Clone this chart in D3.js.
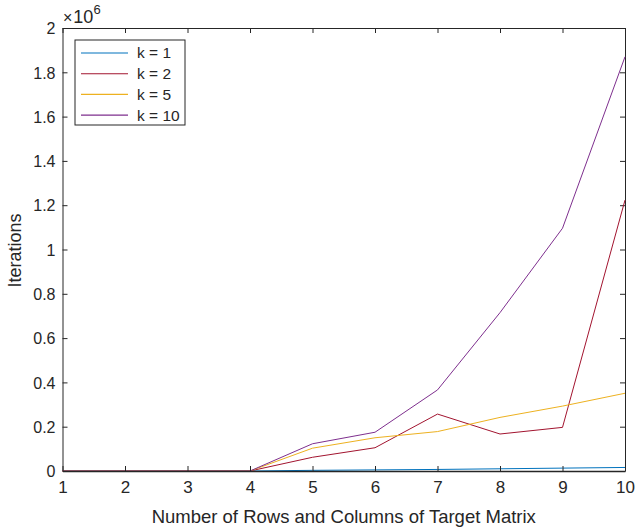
<!DOCTYPE html>
<html>
<head>
<meta charset="utf-8">
<script src="https://cdn.jsdelivr.net/npm/d3@7"></script>
<style>
  body { margin: 0; background: #fff; }
  svg { font-family: "Liberation Sans", Arial, sans-serif; }
  .axis text { font-size: 16px; fill: #262626; }
  .axis line, .axis path { stroke: #262626; }
</style>
</head>
<body>
<svg width="640" height="531"></svg>
<script>
const sizes = [1, 2, 3, 4, 5, 6, 7, 8, 9, 10];
const k1 = [0, 0, 0, 0, 3000, 5000, 7000, 10000, 13000, 16000];
const k2 = [0, 0, 0, 0, 62000, 105000, 257000, 167000, 197000, 1223000];
const k5 = [0, 0, 0, 0, 103000, 150000, 178000, 242000, 293000, 351000];
const k10 = [0, 0, 0, 0, 123000, 175000, 366000, 715000, 1096000, 1870000];
const seriesNames = ["k = 1", "k = 2", "k = 5", "k = 10"];
const seriesColors = ["#0072BD", "#A2142F", "#EDB120", "#7E2F8E"];
const yTicks = [0, 200000, 400000, 600000, 800000, 1000000, 1200000, 1400000, 1600000, 1800000, 2000000];

const series = [k1, k2, k5, k10];

const plotLeft = 62.5, plotRight = 625, plotTop = 28, plotBottom = 471;

const svg = d3.select("svg");

const x = d3.scaleLinear().domain([1, 10]).range([plotLeft, plotRight]);
const y = d3.scaleLinear().domain([0, 2000000]).range([plotBottom, plotTop]);

const fmt = d => String(+(d / 1e6).toFixed(1));

// top axis (faint line, ticks pointing down)
const topAxis = svg.append("g")
  .attr("class", "axis")
  .attr("transform", `translate(0,${plotTop})`)
  .call(d3.axisTop(x).tickValues(sizes).tickSizeInner(-5).tickSizeOuter(0).tickFormat(""));
topAxis.select(".domain").attr("stroke", "#ebebeb");

svg.append("g")
  .attr("class", "axis")
  .attr("transform", `translate(${plotRight},0)`)
  .call(d3.axisRight(y).tickValues(yTicks).tickSizeInner(-5).tickSizeOuter(0).tickFormat(""));

const yAxis = svg.append("g")
  .attr("class", "axis")
  .attr("transform", `translate(${plotLeft},0)`)
  .call(d3.axisLeft(y).tickValues(yTicks).tickSizeInner(-5).tickSizeOuter(0).tickPadding(7).tickFormat(fmt));
yAxis.selectAll("text").attr("dy", "0.36em");

// lines
const line = d3.line()
  .x((d, i) => x(sizes[i]))
  .y(d => y(d));

series.forEach((s, i) => {
  svg.append("path")
    .datum(s)
    .attr("fill", "none")
    .attr("stroke", seriesColors[i])
    .attr("stroke-width", 1)
    .attr("d", line);
});

// bottom axis drawn over the lines
const xAxis = svg.append("g")
  .attr("class", "axis")
  .attr("transform", `translate(0,${plotBottom})`)
  .call(d3.axisBottom(x).tickValues(sizes).tickSizeInner(-5).tickSizeOuter(0).tickPadding(10).tickFormat(d3.format("d")));
xAxis.selectAll("text").style("font-size", "17px");
xAxis.select(".domain").attr("stroke", "#77AC30").attr("stroke-width", 1.3);

// exponent
const ex = svg.append("text")
  .attr("x", 63)
  .attr("y", 23)
  .attr("fill", "#262626")
  .style("font-size", "16px");
ex.append("tspan").text("\u00d7");
ex.append("tspan").attr("dx", 1).style("font-size", "18px").text("10");
ex.append("tspan").attr("dy", -9).style("font-size", "13px").text("6");

// axis titles
svg.append("text")
  .attr("x", (plotLeft + plotRight) / 2)
  .attr("y", 523)
  .attr("text-anchor", "middle")
  .attr("fill", "#262626")
  .style("font-size", "18.5px")
  .text("Number of Rows and Columns of Target Matrix");

svg.append("text")
  .attr("transform", `translate(21,${(plotTop + plotBottom) / 2 + 1}) rotate(-90)`)
  .attr("text-anchor", "middle")
  .attr("fill", "#262626")
  .style("font-size", "18px")
  .text("Iterations");

// legend
const legend = svg.append("g").attr("transform", "translate(75,40)");
legend.append("rect")
  .attr("width", 110)
  .attr("height", 85)
  .attr("fill", "#fff")
  .attr("stroke", "#262626")
  .attr("stroke-width", 1);

seriesNames.forEach((name, i) => {
  const ly = 13 + i * 20.7;
  legend.append("line")
    .attr("x1", 6).attr("x2", 53)
    .attr("y1", ly).attr("y2", ly)
    .attr("stroke", seriesColors[i])
    .attr("stroke-width", 1.1);
  legend.append("text")
    .attr("x", 62)
    .attr("y", ly)
    .attr("dy", "0.35em")
    .attr("fill", "#262626")
    .style("font-size", "15.5px")
    .text(name);
});
</script>
</body>
</html>
